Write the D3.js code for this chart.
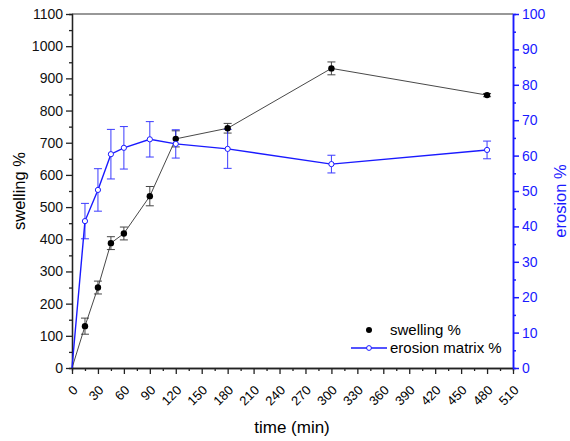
<!DOCTYPE html>
<meta charset="utf-8">
<script src="https://d3js.org/d3.v7.min.js"></script>
<style>
    body { margin: 0; background: #fff; }
    svg text { font-family: 'Liberation Sans', Arial, sans-serif; }
</style>
<body>
<svg width="570" height="441"></svg>
<script>
    // datos
    var tiempos = [0, 15, 30, 45, 60, 90, 120, 180, 300, 480];
    var swelling = [0, 130, 250, 388, 418, 534, 712, 745, 931, 848];
    var swellingErr = [0, 25, 20, 20, 20, 30, 25, 15, 20, 5];
    var erosion = [0, 41.5, 50.3, 60.4, 62.2, 64.6, 63.3, 61.9, 57.6, 61.6];
    var erosionErr = [0, 5, 6, 7, 6, 5, 4, 5.5, 2.5, 2.5];
    var xTicks = d3.range(0, 511, 30);
    var yTicks = d3.range(0, 1101, 100);
    var y2Ticks = d3.range(0, 101, 10);

    var svg = d3.select("svg");
    var azul = "#1a1aff";

    var x = d3.scaleLinear().domain([0, 510]).range([72, 513]);
    var y = d3.scaleLinear().domain([0, 1100]).range([368, 14]);
    var y2 = d3.scaleLinear().domain([0, 100]).range([368, 14]);

    // marco superior
    svg.append("line")
        .attr("x1", 72).attr("x2", 513).attr("y1", 14).attr("y2", 14)
        .attr("stroke", "#333").attr("stroke-width", 1.2);

    // eje x
    var gx = svg.append("g").attr("transform", "translate(0,368)");
    gx.append("g").call(d3.axisBottom(x).tickValues(d3.range(15, 510, 30)).tickSize(3).tickFormat(""));
    gx.append("g").call(d3.axisBottom(x).tickValues(xTicks).tickSize(6).tickSizeOuter(0));
    gx.selectAll("text")
        .attr("font-size", 13)
        .attr("text-anchor", "end")
        .attr("x", 0).attr("y", 0).attr("dy", 0)
        .attr("transform", "translate(6,23) rotate(-45)");
    gx.selectAll("path, line").attr("stroke", "#222").attr("stroke-width", 1.3);

    // eje y izquierdo
    var gy = svg.append("g").attr("transform", "translate(72,0)");
    gy.append("g").call(d3.axisLeft(y).tickValues(d3.range(50, 1100, 100)).tickSize(3).tickFormat(""));
    gy.append("g").call(d3.axisLeft(y).tickValues(yTicks).tickSize(6).tickSizeOuter(0).tickFormat(d3.format("d")));
    gy.selectAll("text").attr("font-size", 14).attr("fill", "#111");
    gy.selectAll("path, line").attr("stroke", "#222").attr("stroke-width", 1.3);

    // eje y derecho
    var gy2 = svg.append("g").attr("transform", "translate(513,0)");
    gy2.append("g").call(d3.axisRight(y2).tickValues(d3.range(5, 100, 10)).tickSize(3).tickFormat(""));
    gy2.append("g").call(d3.axisRight(y2).tickValues(y2Ticks).tickSize(6).tickSizeOuter(0));
    gy2.selectAll("text").attr("font-size", 14).attr("fill", azul);
    gy2.selectAll("path, line").attr("stroke", azul).attr("stroke-width", 1.5);

    // titulos
    svg.append("text").attr("x", 292).attr("y", 433)
        .attr("text-anchor", "middle").attr("font-size", 17).text("time (min)");
    svg.append("text").attr("transform", "translate(25,191) rotate(-90)")
        .attr("text-anchor", "middle").attr("font-size", 16.5).text("swelling %");
    svg.append("text").attr("transform", "translate(566,201) rotate(-90)")
        .attr("text-anchor", "middle").attr("font-size", 16.5).attr("fill", azul).text("erosion %");

    var datosS = tiempos.map(function (t, i) { return { t: t, v: swelling[i], e: swellingErr[i] }; });
    var datosE = tiempos.map(function (t, i) { return { t: t, v: erosion[i], e: erosionErr[i] }; });

    function barras(datos, escala, color, op) {
        var g = svg.append("g").attr("stroke", color).attr("stroke-width", 1).attr("opacity", op);
        datos.filter(function (d) { return d.e > 0; }).forEach(function (d) {
            var cx = x(d.t), y1 = escala(d.v + d.e), y0 = escala(d.v - d.e);
            g.append("line").attr("x1", cx).attr("x2", cx).attr("y1", y1).attr("y2", y0);
            g.append("line").attr("x1", cx - 4).attr("x2", cx + 4).attr("y1", y1).attr("y2", y1);
            g.append("line").attr("x1", cx - 4).attr("x2", cx + 4).attr("y1", y0).attr("y2", y0);
        });
    }

    // serie swelling
    barras(datosS, y, "#333", 0.9);
    svg.append("path").datum(datosS)
        .attr("fill", "none").attr("stroke", "#333").attr("stroke-width", 0.9)
        .attr("d", d3.line().x(function (d) { return x(d.t); }).y(function (d) { return y(d.v); }));

    // serie erosion
    barras(datosE, y2, azul, 0.85);
    svg.append("path").datum(datosE)
        .attr("fill", "none").attr("stroke", azul).attr("stroke-width", 1.4)
        .attr("d", d3.line().x(function (d) { return x(d.t); }).y(function (d) { return y2(d.v); }));

    svg.append("g").selectAll("circle").data(datosS.slice(1)).enter().append("circle")
        .attr("cx", function (d) { return x(d.t); })
        .attr("cy", function (d) { return y(d.v); })
        .attr("r", 3.2).attr("fill", "#000");
    svg.append("g").selectAll("circle").data(datosE.slice(1)).enter().append("circle")
        .attr("cx", function (d) { return x(d.t); })
        .attr("cy", function (d) { return y2(d.v); })
        .attr("r", 2.6).attr("fill", "#fff").attr("stroke", azul).attr("stroke-width", 1);

    // leyenda
    var ley = svg.append("g").attr("font-size", 15);
    ley.append("circle").attr("cx", 369).attr("cy", 330).attr("r", 3).attr("fill", "#000");
    ley.append("text").attr("x", 390).attr("y", 335).text("swelling %");
    ley.append("line").attr("x1", 351).attr("x2", 387).attr("y1", 348).attr("y2", 348)
        .attr("stroke", azul).attr("stroke-width", 1.4);
    ley.append("circle").attr("cx", 369).attr("cy", 348).attr("r", 2.4)
        .attr("fill", "#fff").attr("stroke", azul);
    ley.append("text").attr("x", 390).attr("y", 353).text("erosion matrix %");
</script>
</body>
